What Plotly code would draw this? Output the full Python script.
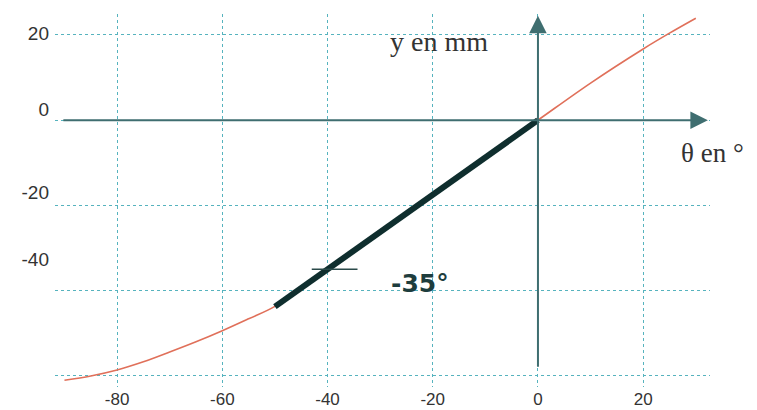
import plotly.graph_objects as go

# --- data ---
theta_curve = [-90, -85, -80, -75, -70, -65, -60, -55, -50, -40, -30, -20, -10, 0, 10, 20, 25, 30]
y_curve = [-61.0, -60.0, -58.6, -56.7, -54.4, -52.0, -49.4, -46.6, -43.7, -35.0, -26.2, -17.5, -8.75, 0.0, 8.7, 16.7, 20.4, 23.9]

theta_linear = [-50, 0]
y_linear = [-43.75, 0]

mark_theta = [-43.0, -34.3]
mark_y = [-35, -35]

x_ticks = [-80, -60, -40, -20, 0, 20]
x_ticklabels = ["-80", "-60", "-40", "-20", "0", "20"]
y_grid = [20, 0, -20, -40, -60]
y_ticklabels = ["20", "0", "-20", "-40"]
y_label_pos = [20.4, 2.6, -16.9, -32.7]

x_range = [-91.8, 32.7]
y_range = [-62.6, 24.9]

grid_col = "#56b3be"
axis_col = "#3f6e70"

fig = go.Figure()
fig.add_trace(go.Scatter(x=theta_curve, y=y_curve, mode="lines", line=dict(color="#e0705a", width=1.6, shape="spline"), hoverinfo="skip"))
fig.add_trace(go.Scatter(x=theta_linear, y=y_linear, mode="lines", line=dict(color="#0f2e2e", width=6), hoverinfo="skip"))
fig.add_trace(go.Scatter(x=mark_theta, y=mark_y, mode="lines", line=dict(color="#2a4a4a", width=1.5), hoverinfo="skip"))
fig.add_trace(go.Scatter(x=[x_range[0]], y=[y_range[0]], yaxis="y2", mode="markers", marker=dict(opacity=0), hoverinfo="skip"))

# axis arrows
fig.add_annotation(x=32.3, y=0, ax=-90.5, ay=0, xref="x", yref="y", axref="x", ayref="y",
                   text="", showarrow=True, arrowhead=2, arrowsize=1.75, arrowwidth=2, arrowcolor=axis_col)
fig.add_annotation(x=0, y=24.5, ax=0, ay=-58.2, xref="x", yref="y", axref="x", ayref="y",
                   text="", showarrow=True, arrowhead=2, arrowsize=1.75, arrowwidth=2, arrowcolor=axis_col)

fig.add_annotation(x=-18.8, y=18.5, xref="x", yref="y", text="y en mm", showarrow=False,
                   xanchor="center", yanchor="middle",
                   font=dict(family="Liberation Serif", size=28, color="#333333"))
fig.add_annotation(x=(712 - 55) / 655, y=(387 - 153) / 373, xref="paper", yref="paper", text="θ en °", showarrow=False,
                   xanchor="center", yanchor="middle",
                   font=dict(family="Liberation Serif", size=27, color="#333333"))
fig.add_annotation(x=-22.4, y=-38.3, xref="x", yref="y", text="<b>-35°</b>", showarrow=False,
                   xanchor="center", yanchor="middle",
                   font=dict(family="DejaVu Sans", size=25, color="#1e3d3d"))

fig.update_layout(
    width=749, height=402,
    margin=dict(l=47, r=47, t=6, b=23, autoexpand=False),
    paper_bgcolor="white", plot_bgcolor="white",
    showlegend=False,
    xaxis=dict(range=x_range, tickmode="array", tickvals=x_ticks, ticktext=x_ticklabels,
               showgrid=True, gridcolor=grid_col, griddash="dot", gridwidth=1,
               zeroline=False, showline=False, ticks="", automargin=False, ticklabelstandoff=0,
               tickfont=dict(family="Liberation Sans", size=17, color="#333333")),
    yaxis=dict(range=y_range, tickmode="array", tickvals=y_grid, showticklabels=False,
               showgrid=True, gridcolor=grid_col, griddash="dot", gridwidth=1,
               zeroline=False, showline=False, ticks="", automargin=False),
    yaxis2=dict(range=y_range, overlaying="y", side="left", tickmode="array", tickvals=y_label_pos,
                ticktext=y_ticklabels, showgrid=False, zeroline=False, showline=False, ticks="",
                ticklabelstandoff=5, automargin=False,
                tickfont=dict(family="Liberation Sans", size=19, color="#333333")),
)

fig.write_html("out.html")
